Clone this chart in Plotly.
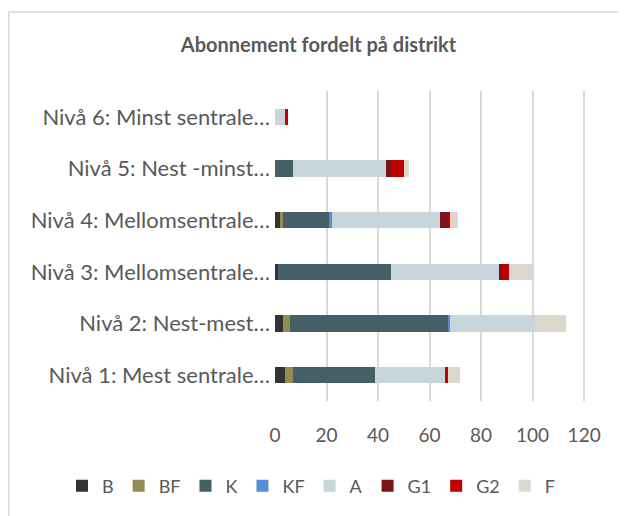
import plotly.graph_objects as go

categories = ["Nivå 1: Mest sentrale…", "Nivå 2: Nest-mest…", "Nivå 3: Mellomsentrale…",
              "Nivå 4: Mellomsentrale…", "Nivå 5: Nest -minst…", "Nivå 6: Minst sentrale…"]
series_names = ["B", "BF", "K", "KF", "A", "G1", "G2", "F"]
B  = [4, 3, 1, 2, 0, 0]
BF = [3, 3, 0, 1, 0, 0]
K  = [32, 61, 44, 18, 7, 0]
KF = [0, 1, 0, 1, 0, 0]
A  = [27, 33, 42, 42, 36, 4]
G1 = [0, 0, 1, 3, 2, 0]
G2 = [1, 0, 3, 1, 5, 1]
F  = [5, 12, 9, 3, 2, 0]
series_values = [B, BF, K, KF, A, G1, G2, F]
colors = ["#333333", "#948A54", "#455F66", "#558ED5", "#C8D5DA", "#7B1419", "#C00000", "#DDD8CE"]
x_ticks = [0, 20, 40, 60, 80, 100, 120]

# page body has an 8px margin: figure drawn in page coords minus 8
OFF = 8
W, H = 626 - OFF, 516 - OFF
L, R, T, Bm = 275 - OFF, 38, 91 - OFF, 115
pw, ph = W - L - R, H - T - Bm

def px(xs):  # screen x -> paper
    return (xs - OFF - L) / pw

def py(ys):  # screen y -> paper
    return (H - Bm - (ys - OFF)) / ph

font = "Lato, 'Open Sans', sans-serif"
fig = go.Figure()
for name, vals, col in zip(series_names, series_values, colors):
    fig.add_trace(go.Bar(y=categories, x=vals, name=name, orientation="h",
                         marker=dict(color=col, line=dict(width=0))))

fig.update_layout(
    width=W, height=H, barmode="stack", bargap=0.69,
    margin=dict(l=L, r=R, t=T, b=Bm, autoexpand=False),
    paper_bgcolor="white", plot_bgcolor="white",
    font=dict(family=font, color="#595959", size=18),
    title=dict(text="<b>Abonnement fordelt på distrikt</b>", x=(318.5 - OFF) / W, xanchor="center",
               y=1 - (45 - OFF) / H, yanchor="middle", font=dict(size=20, color="#595959", family=font)),
    xaxis=dict(range=[0, 121.5], tickvals=x_ticks, showgrid=True, gridcolor="#D9D9D9", gridwidth=1.5,
               zeroline=False, showline=False, ticks="", ticklabelstandoff=21, automargin=False,
               tickfont=dict(size=19, color="#595959")),
    yaxis=dict(type="category", categoryorder="array", categoryarray=categories, showgrid=False,
               zeroline=False, showline=False, ticks="", ticklabelstandoff=4, automargin=False,
               tickfont=dict(size=22, color="#595959")),
    legend=dict(orientation="h", x=px(62), xanchor="left", y=py(486), yanchor="middle",
                font=dict(size=18, color="#595959"), traceorder="normal", itemwidth=30),
    showlegend=True,
)
# chart border (top and left visible; right/bottom cropped)
fig.add_shape(type="line", xref="paper", yref="paper", x0=px(8.8), x1=px(640), y0=py(12), y1=py(12),
              line=dict(color="#D9D9D9", width=1.5))
fig.add_shape(type="line", xref="paper", yref="paper", x0=px(8.8), x1=px(8.8), y0=py(12), y1=py(540),
              line=dict(color="#D9D9D9", width=1.5))
fig.write_html("out.html")
